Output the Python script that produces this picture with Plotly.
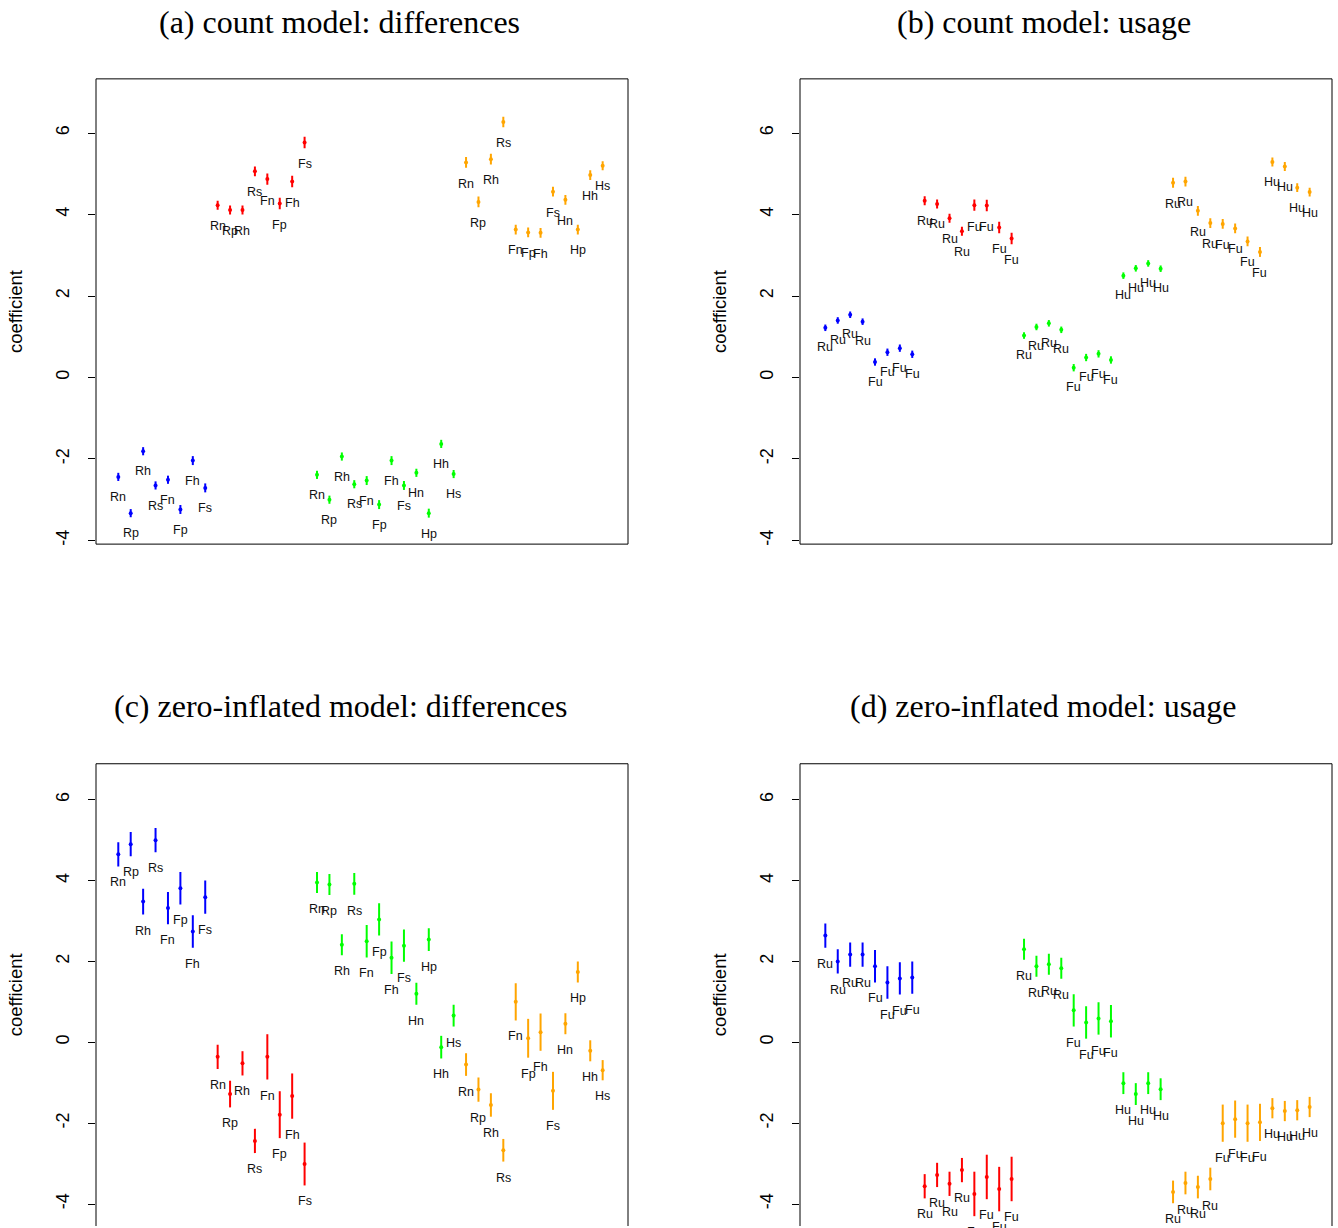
import plotly.graph_objects as go

W, H = 1338, 1228
BLUE, RED, GREEN, ORANGE = "#0000FF", "#FF0000", "#00FF00", "#FFA500"

# ---------------- panel (a) count model: differences ----------------
a_blue_lab = ["Rn", "Rp", "Rh", "Rs", "Fn", "Fp", "Fh", "Fs"]
a_blue_val = [-2.44, -3.33, -1.81, -2.65, -2.51, -3.24, -2.04, -2.71]
a_blue_err = [0.10, 0.10, 0.10, 0.10, 0.10, 0.11, 0.11, 0.11]
a_red_lab = ["Rn", "Rp", "Rh", "Rs", "Fn", "Fp", "Fh", "Fs"]
a_red_val = [4.23, 4.11, 4.11, 5.06, 4.87, 4.27, 4.81, 5.77]
a_red_err = [0.11, 0.11, 0.11, 0.12, 0.14, 0.14, 0.14, 0.14]
a_green_lab = ["Rn", "Rp", "Rh", "Rs", "Fn", "Fp", "Fh", "Fs", "Hn", "Hp", "Hh", "Hs"]
a_green_val = [-2.39, -3.00, -1.94, -2.62, -2.53, -3.12, -2.04, -2.65, -2.34, -3.33, -1.63, -2.37]
a_green_err = [0.10, 0.10, 0.10, 0.10, 0.11, 0.11, 0.11, 0.11, 0.10, 0.11, 0.10, 0.10]
a_orange_lab = ["Rn", "Rp", "Rh", "Rs", "Fn", "Fp", "Fh", "Fs", "Hn", "Hp", "Hh", "Hs"]
a_orange_val = [5.28, 4.31, 5.36, 6.27, 3.63, 3.56, 3.55, 4.56, 4.36, 3.63, 4.97, 5.20]
a_orange_err = [0.13, 0.13, 0.13, 0.13, 0.12, 0.12, 0.12, 0.12, 0.12, 0.12, 0.12, 0.11]

# ---------------- panel (b) count model: usage ----------------
b_blue_lab = ["Ru", "Ru", "Ru", "Ru", "Fu", "Fu", "Fu", "Fu"]
b_blue_val = [1.22, 1.40, 1.54, 1.37, 0.38, 0.62, 0.72, 0.57]
b_blue_err = [0.08, 0.08, 0.08, 0.08, 0.09, 0.09, 0.09, 0.09]
b_red_lab = ["Ru", "Ru", "Ru", "Ru", "Fu", "Fu", "Fu", "Fu"]
b_red_val = [4.34, 4.26, 3.91, 3.59, 4.23, 4.22, 3.68, 3.41]
b_red_err = [0.11, 0.11, 0.11, 0.11, 0.14, 0.14, 0.14, 0.14]
b_green_lab = ["Ru", "Ru", "Ru", "Ru", "Fu", "Fu", "Fu", "Fu", "Hu", "Hu", "Hu", "Hu"]
b_green_val = [1.03, 1.24, 1.33, 1.17, 0.24, 0.49, 0.58, 0.43, 2.50, 2.68, 2.80, 2.67]
b_green_err = [0.08, 0.08, 0.08, 0.08, 0.09, 0.09, 0.09, 0.09, 0.08, 0.08, 0.08, 0.08]
b_orange_lab = ["Ru", "Ru", "Ru", "Ru", "Fu", "Fu", "Fu", "Fu", "Hu", "Hu", "Hu", "Hu"]
b_orange_val = [4.78, 4.81, 4.09, 3.79, 3.77, 3.66, 3.34, 3.08, 5.29, 5.18, 4.66, 4.55]
b_orange_err = [0.12, 0.12, 0.12, 0.12, 0.12, 0.12, 0.12, 0.12, 0.11, 0.11, 0.11, 0.11]

# ---------------- panel (c) zero-inflated model: differences ----------------
c_blue_lab = ["Rn", "Rp", "Rh", "Rs", "Fn", "Fp", "Fh", "Fs"]
c_blue_val = [4.65, 4.90, 3.48, 5.00, 3.32, 3.81, 2.74, 3.59]
c_blue_err = [0.30, 0.30, 0.32, 0.30, 0.40, 0.40, 0.40, 0.41]
c_red_lab = ["Rn", "Rp", "Rh", "Rs", "Fn", "Fp", "Fh", "Fs"]
c_red_val = [-0.36, -1.28, -0.52, -2.44, -0.36, -1.79, -1.33, -3.01]
c_red_err = [0.30, 0.33, 0.30, 0.30, 0.56, 0.58, 0.56, 0.53]
c_green_lab = ["Rn", "Rp", "Rh", "Rs", "Fn", "Fp", "Fh", "Fs", "Hn", "Hp", "Hh", "Hs"]
c_green_val = [3.95, 3.90, 2.41, 3.92, 2.50, 3.04, 2.09, 2.39, 1.20, 2.54, -0.12, 0.66]
c_green_err = [0.26, 0.26, 0.26, 0.27, 0.40, 0.40, 0.40, 0.40, 0.27, 0.28, 0.28, 0.27]
c_orange_lab = ["Rn", "Rp", "Rh", "Rs", "Fn", "Fp", "Fh", "Fs", "Hn", "Hp", "Hh", "Hs"]
c_orange_val = [-0.55, -1.17, -1.55, -2.67, 1.00, 0.10, 0.25, -1.20, 0.46, 1.74, -0.21, -0.69]
c_orange_err = [0.28, 0.30, 0.29, 0.28, 0.46, 0.48, 0.46, 0.47, 0.26, 0.26, 0.26, 0.25]

# ---------------- panel (d) zero-inflated model: usage ----------------
d_blue_lab = ["Ru", "Ru", "Ru", "Ru", "Fu", "Fu", "Fu", "Fu"]
d_blue_val = [2.64, 2.00, 2.17, 2.17, 1.88, 1.48, 1.58, 1.60]
d_blue_err = [0.30, 0.30, 0.30, 0.30, 0.40, 0.40, 0.40, 0.40]
d_red_lab = ["Ru", "Ru", "Ru", "Ru", "Fu", "Fu", "Fu", "Fu"]
d_red_val = [-3.56, -3.28, -3.50, -3.16, -3.75, -3.33, -3.63, -3.38]
d_red_err = [0.30, 0.30, 0.30, 0.30, 0.55, 0.55, 0.55, 0.55]
d_green_lab = ["Ru", "Ru", "Ru", "Ru", "Fu", "Fu", "Fu", "Fu", "Hu", "Hu", "Hu", "Hu"]
d_green_val = [2.30, 1.88, 1.93, 1.83, 0.79, 0.49, 0.59, 0.52, -1.01, -1.28, -1.01, -1.16]
d_green_err = [0.26, 0.26, 0.26, 0.26, 0.40, 0.40, 0.40, 0.40, 0.27, 0.27, 0.27, 0.27]
d_orange_lab = ["Ru", "Ru", "Ru", "Ru", "Fu", "Fu", "Fu", "Fu", "Hu", "Hu", "Hu", "Hu"]
d_orange_val = [-3.70, -3.48, -3.58, -3.38, -2.00, -1.90, -2.00, -1.98, -1.63, -1.70, -1.68, -1.60]
d_orange_err = [0.28, 0.28, 0.28, 0.28, 0.46, 0.46, 0.46, 0.46, 0.25, 0.25, 0.25, 0.25]

y_ticks = [-4, -2, 0, 2, 4, 6]
titles = ["(a) count model: differences", "(b) count model: usage",
          "(c) zero-inflated model: differences", "(d) zero-inflated model: usage"]

panels = [
    [(BLUE, a_blue_lab, a_blue_val, a_blue_err), (RED, a_red_lab, a_red_val, a_red_err),
     (GREEN, a_green_lab, a_green_val, a_green_err), (ORANGE, a_orange_lab, a_orange_val, a_orange_err)],
    [(BLUE, b_blue_lab, b_blue_val, b_blue_err), (RED, b_red_lab, b_red_val, b_red_err),
     (GREEN, b_green_lab, b_green_val, b_green_err), (ORANGE, b_orange_lab, b_orange_val, b_orange_err)],
    [(BLUE, c_blue_lab, c_blue_val, c_blue_err), (RED, c_red_lab, c_red_val, c_red_err),
     (GREEN, c_green_lab, c_green_val, c_green_err), (ORANGE, c_orange_lab, c_orange_val, c_orange_err)],
    [(BLUE, d_blue_lab, d_blue_val, d_blue_err), (RED, d_red_lab, d_red_val, d_red_err),
     (GREEN, d_green_lab, d_green_val, d_green_err), (ORANGE, d_orange_lab, d_orange_val, d_orange_err)],
]

# pixel geometry of each panel box: (left, right, top, bottom)
boxes = [(96, 628, 79, 545), (800, 1332, 79, 545), (96, 628, 765, 1228), (800, 1332, 765, 1228)]
yranges = [[-4.09, 7.33], [-4.09, 7.33], [-4.543, 6.889], [-4.543, 6.889]]
xranges = [[-0.795, 42.04], [-1.04, 41.8], [-0.795, 42.04], [-1.04, 41.8]]
title_pos = [(339.5, 22), (1043.5, 22), (340.5, 707), (1043.5, 707)]

fig = go.Figure()
annotations = []
shapes = []
for p, groups in enumerate(panels):
    n = p + 1
    xa = "x" if n == 1 else f"x{n}"
    ya = "y" if n == 1 else f"y{n}"
    idx = 1
    for color, labs, vals, errs in groups:
        xs = list(range(idx, idx + len(vals)))
        idx += len(vals)
        fig.add_trace(go.Scatter(
            x=xs, y=vals, mode="markers", xaxis=xa, yaxis=ya,
            marker=dict(color=color, size=4),
            error_y=dict(type="data", array=errs, visible=True, color=color, thickness=2, width=0),
            showlegend=False, hoverinfo="skip"))
        for xv, v, e, lab in zip(xs, vals, errs, labs):
            annotations.append(dict(
                x=xv, y=v - e, xref=xa, yref=ya, text=lab, showarrow=False,
                yanchor="middle", xanchor="center", yshift=-16,
                font=dict(family="Liberation Sans, Arial", size=12.5, color="#111111")))
    l, r, t, b = boxes[p]
    dom_x = [l / W, r / W]
    dom_y = [max(0.0, (H - b) / H), (H - t) / H]
    ax_key = "xaxis" if n == 1 else f"xaxis{n}"
    ay_key = "yaxis" if n == 1 else f"yaxis{n}"
    fig.update_layout(**{
        ax_key: dict(domain=dom_x, range=xranges[p], anchor=ya, visible=False, fixedrange=True),
        ay_key: dict(domain=dom_y, range=yranges[p], anchor=xa, tickvals=y_ticks,
                     ticktext=[str(v) for v in y_ticks], ticks="outside", ticklen=7,
                     tickcolor="#000", tickwidth=1, showgrid=False, zeroline=False,
                     showline=False, tickangle=-90, ticklabelstandoff=12,
                     tickfont=dict(family="Liberation Sans, Arial", size=18, color="#000"),
                     title=dict(text="coefficient", standoff=25,
                                font=dict(family="Liberation Sans, Arial", size=18.5, color="#000"))),
    })
    # box (bottom side omitted for cropped lower panels)
    xd = f"{xa} domain"
    yd = f"{ya} domain"
    line = dict(color="#000", width=1)
    shapes.append(dict(type="line", xref=xd, yref=yd, x0=0, x1=0, y0=0, y1=1, line=line))
    shapes.append(dict(type="line", xref=xd, yref=yd, x0=1, x1=1, y0=0, y1=1, line=line))
    shapes.append(dict(type="line", xref=xd, yref=yd, x0=0, x1=1, y0=1, y1=1, line=line))
    if b < H:
        shapes.append(dict(type="line", xref=xd, yref=yd, x0=0, x1=1, y0=0, y1=0, line=line))
    tx, ty = title_pos[p]
    annotations.append(dict(
        x=tx / W, y=1 - ty / H, xref="paper", yref="paper", text=titles[p], showarrow=False,
        xanchor="center", yanchor="middle",
        font=dict(family="Liberation Serif, Times New Roman", size=32, color="#000")))

fig.update_layout(
    width=W, height=H, margin=dict(l=0, r=0, t=0, b=0),
    paper_bgcolor="white", plot_bgcolor="white",
    annotations=annotations, shapes=shapes, showlegend=False)

fig.write_html("out.html")
